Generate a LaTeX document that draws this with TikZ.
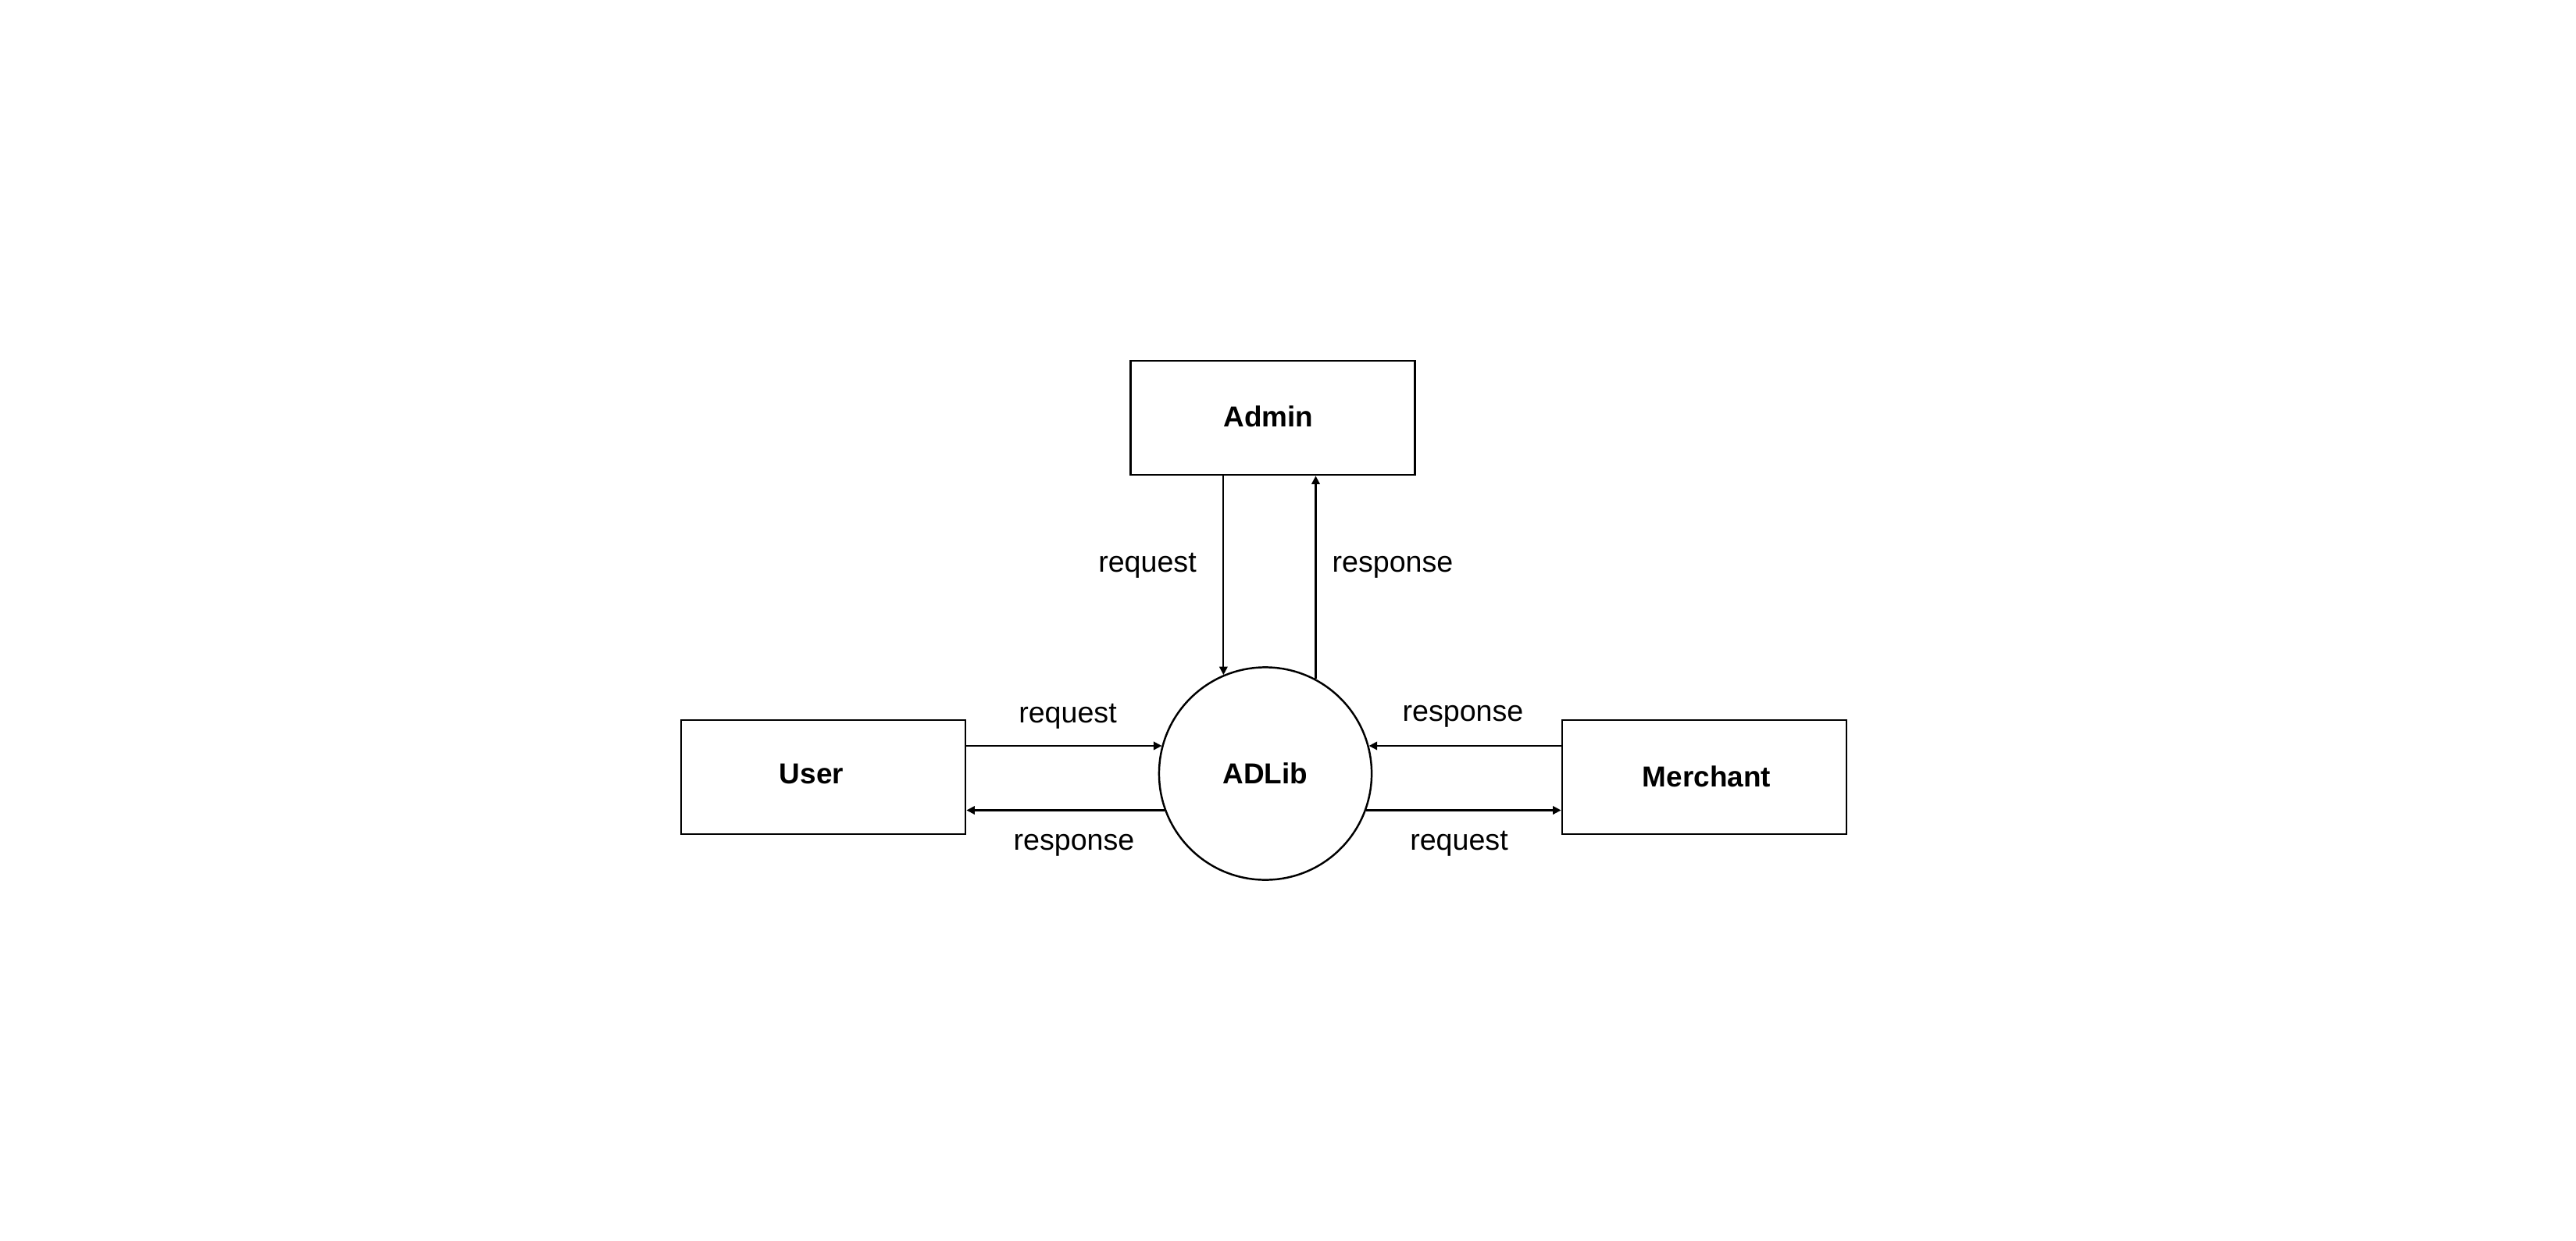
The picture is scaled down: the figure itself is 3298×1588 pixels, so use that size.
\documentclass[tikz,border=0pt]{standalone}
\usepackage{fontspec}
\setmainfont{Liberation Sans}
\usetikzlibrary{arrows.meta}
\begin{document}
\begin{tikzpicture}[x=0.01cm,y=-0.01cm,
  entity/.style={draw,line width=0.75pt,minimum width=3.64cm,minimum height=1.46cm,inner sep=0pt},
  proc/.style={draw,circle,line width=0.7pt,minimum size=2.72cm,inner sep=0pt},
  title/.style={font=\fontsize{10.5}{12}\selectfont\bfseries,anchor=base,inner sep=0pt},
  lbl/.style={font=\fontsize{10.7}{12}\selectfont,anchor=base,inner sep=0pt},
  flow/.style={line width=0.6pt,-{Triangle[length=3pt,width=3pt]}}]
\useasboundingbox (0,0) rectangle (3298,1588);
\node[entity] (admin) at (1629.5,535) {};
\node[entity] (user) at (1054,995) {};
\node[entity] (merchant) at (2182,995) {};
\node[proc] (adlib) at (1620,990.5) {};
\node[title] (tadmin) at (1624,546) {Admin};
\node[title] (tuser) at (1039,1003) {User};
\node[title] (tmerchant) at (2185,1007) {Merchant};
\node[title] (tadlib) at (1620,1003) {ADLib};
% connectors
\draw[flow] (admin.south -| adlib.113) -- (adlib.113);
\draw[flow] (adlib.62) -- (admin.south -| adlib.62);
\draw[flow] (user.east |- adlib.165) -- (adlib.165);
\draw[flow] (adlib.200) -- (user.east |- adlib.200);
\draw[flow] (merchant.west |- adlib.15) -- (adlib.15);
\draw[flow] (adlib.340) -- (merchant.west |- adlib.340);
% labels
\node[lbl] (l1) at (1469,732) {request};
\node[lbl] (l2) at (1783,732) {response};
\node[lbl] (l3) at (1367,925) {request};
\node[lbl] (l4) at (1375,1088) {response};
\node[lbl] (l5) at (1873,923) {response};
\node[lbl] (l6) at (1868,1088) {request};
\end{tikzpicture}
\end{document}
